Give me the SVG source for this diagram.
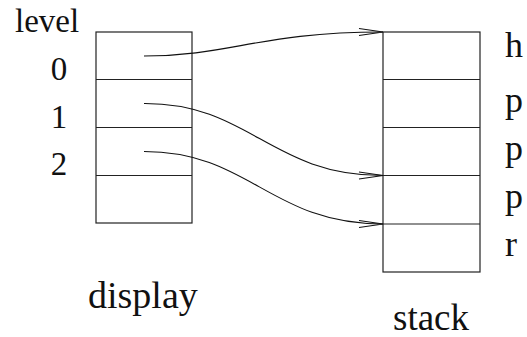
<svg xmlns="http://www.w3.org/2000/svg" width="527" height="337" viewBox="0 0 527 337">
<style>
.box{fill:none;stroke:#222;stroke-width:1.2}
.conn{fill:none;stroke:#111;stroke-width:1.1}
.t{font-family:'Liberation Serif','Times New Roman',serif;fill:#111}
.lbl{font-size:33px}
.rl{font-size:36px}
</style>
<defs>
<marker id="ah" markerUnits="userSpaceOnUse" markerWidth="30" markerHeight="12" refX="24" refY="6" orient="auto" overflow="visible">
<path d="M0,2.5 L24,6 L0,9.5" fill="none" stroke="#111" stroke-width="1.1"/>
</marker>
</defs>
<text class="t lbl" x="15" y="32">level</text>
<g id="display">
<rect class="box" x="96" y="32" width="96" height="191"/>
<path class="box" d="M96,79.5H192M96,127.5H192M96,175.5H192"/>
<text class="t lbl" x="59" y="80" text-anchor="middle">0</text>
<text class="t lbl" x="59" y="128" text-anchor="middle">1</text>
<text class="t lbl" x="59" y="175" text-anchor="middle">2</text>
<text class="t" x="88" y="308" font-size="38">display</text>
</g>
<g id="stack">
<rect class="box" x="383" y="32" width="97" height="240"/>
<path class="box" d="M383,79.5H480M383,127.5H480M383,175.5H480M383,224H480"/>
<text class="t rl" x="505" y="57">h</text>
<text class="t rl" x="505" y="112">p</text>
<text class="t rl" x="505" y="160">p</text>
<text class="t rl" x="505" y="208">p</text>
<text class="t rl" x="505" y="256">r</text>
<text class="t" x="393" y="330" font-size="37">stack</text>
</g>
<g id="connectors">
<path class="conn" d="M144,56 C230,56 260,32 383,32" marker-end="url(#ah)"/>
<path class="conn" d="M144,103.5 C250,103 270,175.5 383,175.5" marker-end="url(#ah)"/>
<path class="conn" d="M144,151.5 C250,151.5 270,224 383,224" marker-end="url(#ah)"/>
</g>
</svg>
